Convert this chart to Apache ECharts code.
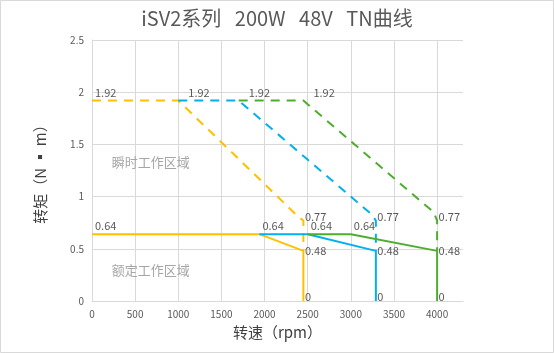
<!DOCTYPE html>
<html>
<head>
<meta charset="utf-8">
<script src="https://cdn.jsdelivr.net/npm/echarts@6/dist/echarts.min.js"></script>
<style>
  html, body { margin: 0; padding: 0; background: #fff; }
  #chart { width: 554px; height: 353px; }
</style>
</head>
<body>
<div id="chart"></div>
<script>
// axis ticks
var xTicks = [0, 500, 1000, 1500, 2000, 2500, 3000, 3500, 4000];
var yTicks = [0, 0.5, 1, 1.5, 2, 2.5];

// 瞬时 (dashed) curves
var yellowPeakX = [0, 1000, 2400, 2450, 2450];
var yellowPeakY = [1.92, 1.92, 0.8, 0.77, 0.48];
var bluePeakX = [1000, 1700, 3240, 3290, 3290];
var bluePeakY = [1.92, 1.92, 0.83, 0.77, 0.48];
var greenPeakX = [1700, 2450, 3960, 4000, 4000];
var greenPeakY = [1.92, 1.92, 0.85, 0.77, 0.48];

// 额定 (solid) curves
var yellowRatedX = [0, 1940, 2450, 2450];
var yellowRatedY = [0.64, 0.64, 0.48, 0];
var blueRatedX = [1940, 2500, 3290, 3290];
var blueRatedY = [0.64, 0.64, 0.48, 0];
var greenRatedX = [2500, 3000, 4000, 4000];
var greenRatedY = [0.64, 0.64, 0.48, 0];

var zones = ['瞬时工作区域', '额定工作区域'];
var zoneX = [680, 680];
var zoneY = [1.33, 0.3];

var labelColor = '#595959';
var font = '"Noto Sans CJK SC", "Noto Sans", sans-serif';

function pairs(xs, ys) {
  return xs.map(function (x, i) { return [x, ys[i]]; });
}

// label styles
var lblTop = function (dx) {
  return { show: true, position: 'top', align: 'left', distance: 2, padding: [0, 0, 0, dx],
           color: labelColor, fontSize: 11, fontFamily: font, formatter: function (p) { return p.value[1]; } };
};
var lblRight = function (up) {
  return { show: true, position: 'right', distance: 1, offset: [0, -up],
           color: labelColor, fontSize: 11, fontFamily: font, formatter: function (p) { return p.value[1]; } };
};

function peakData(xs, ys, flatIdx, dx) {
  return pairs(xs, ys).map(function (v, i) {
    var item = { value: v };
    if (i === flatIdx) item.label = lblTop(dx);
    if (i === 3) item.label = lblRight(4);
    return item;
  });
}
function ratedData(xs, ys, labelIdx) {
  return pairs(xs, ys).map(function (v, i) {
    var item = { value: v };
    if (labelIdx.indexOf(i) >= 0) item.label = lblTop(3);
    if (i === 2) item.label = lblRight(0);
    if (i === 3) item.label = lblRight(4);
    return item;
  });
}

function line(name, color, data, dashed) {
  return {
    name: name, type: 'line', data: data, showSymbol: true, symbol: 'circle', symbolSize: 1,
    showAllSymbol: true,
    animation: false, silent: true, z: dashed ? 2 : 3,
    label: { show: false },
    lineStyle: { color: color, width: 2, type: dashed ? [9, 7] : 'solid' },
    itemStyle: { color: 'rgba(0,0,0,0)', borderWidth: 0 }
  };
}

var yellow = '#FFC000', blue = '#00B0F0', green = '#4EAD2E';

var yDash = peakData(yellowPeakX, yellowPeakY, 0, 3);
yDash[1].label = lblTop(10);
var series = [
  line('yp', yellow, yDash, true),
  line('bp', blue, peakData(bluePeakX, bluePeakY, 1, 10), true),
  line('gp', green, peakData(greenPeakX, greenPeakY, 1, 10), true),
  line('yr', yellow, ratedData(yellowRatedX, yellowRatedY, [0, 1]), false),
  line('br', blue, ratedData(blueRatedX, blueRatedY, [1]), false),
  line('gr', green, ratedData(greenRatedX, greenRatedY, [1]), false)
];

series.push({
  type: 'scatter', data: [], silent: true, animation: false,
  markPoint: {
    symbol: 'circle', symbolSize: 0, animation: false,
    itemStyle: { color: 'transparent' },
    label: { show: true, position: 'inside', color: '#a6a6a6', fontSize: 13, fontFamily: font,
             formatter: function (p) { return p.name; } },
    data: zones.map(function (z, i) { return { name: z, coord: [zoneX[i], zoneY[i]] }; })
  }
});

var chart = echarts.init(document.getElementById('chart'), null, { renderer: 'canvas' });
chart.setOption({
  backgroundColor: '#fff',
  animation: false,
  title: {
    text: 'iSV2系列   200W   48V   TN曲线',
    left: 'center', top: 3,
    textStyle: { color: labelColor, fontSize: 20, fontWeight: 'normal', fontFamily: font }
  },
  graphic: [{
    type: 'rect', shape: { x: 0.5, y: 0.5, width: 553, height: 352 },
    style: { fill: 'none', stroke: '#d9d9d9', lineWidth: 1 }, silent: true
  }],
  grid: { left: 92, right: 91, top: 40, bottom: 52 },
  xAxis: {
    type: 'value', min: xTicks[0], max: 4300, interval: 500,
    name: '转速（rpm）', nameLocation: 'middle', nameGap: 24,
    nameTextStyle: { color: '#404040', fontSize: 15, fontFamily: font },
    axisLine: { show: true, lineStyle: { color: '#d9d9d9' } },
    axisTick: { show: false },
    axisLabel: { color: labelColor, fontSize: 10, fontFamily: font, margin: 8, showMaxLabel: false,
                 formatter: function (v) { return xTicks.indexOf(v) >= 0 ? String(v) : ''; } },
    splitLine: { show: true, showMaxLine: false, lineStyle: { color: '#d9d9d9' } }
  },
  yAxis: {
    type: 'value', min: yTicks[0], max: yTicks[yTicks.length - 1], interval: 0.5,
    name: '转矩（N ▪ m）', nameLocation: 'middle', nameGap: 44, nameRotate: 90,
    nameTextStyle: { color: '#404040', fontSize: 15, fontFamily: font },
    axisLine: { show: true, lineStyle: { color: '#d9d9d9' } },
    axisTick: { show: false },
    axisLabel: { color: labelColor, fontSize: 10, fontFamily: font, margin: 8 },
    splitLine: { show: true, lineStyle: { color: '#d9d9d9' } }
  },
  series: series
});
</script>
</body>
</html>
